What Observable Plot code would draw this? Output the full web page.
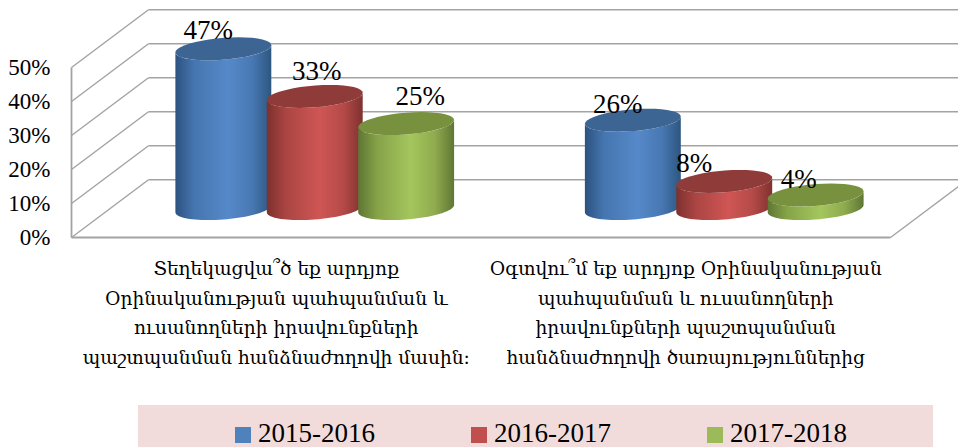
<!DOCTYPE html>
<html>
<head>
<meta charset="utf-8">
<script src="https://cdn.jsdelivr.net/npm/d3@7"></script>
<script src="https://cdn.jsdelivr.net/npm/@observablehq/plot@0.6"></script>
<style>
html,body{margin:0;padding:0;background:#fff;overflow:hidden}
#legend{position:relative;margin-left:138px;width:795px;height:42px;background:#f2dcdb;font:27px "Liberation Serif",serif;color:#000;display:flex;padding-left:97px;box-sizing:border-box;gap:96px;align-items:flex-end}
#legend div{display:flex;align-items:flex-end;gap:7px;line-height:27px;height:27px;white-space:nowrap}
#legend i{display:inline-block;width:16px;height:16px;margin-bottom:4px}
</style>
</head>
<body>
<div id="chart"></div>
<div id="legend"></div>
<script>
const categories = [
  "Տեղեկացվա՞ծ եք արդյոք\nՕրինականության պահպանման և\nուսանողների իրավունքների\nպաշտպանման հանձնաժողովի մասին:",
  "Օգտվու՞մ եք արդյոք Օրինականության\nպահպանման և ուսանողների\nիրավունքների պաշտպանման\nհանձնաժողովի ծառայություններից"
];
const seriesNames = ["2015-2016", "2016-2017", "2017-2018"];
const values2015 = [47, 26];
const values2016 = [33, 8];
const values2017 = [25, 4];
const seriesValues = [values2015, values2016, values2017];
const valueTicks = [0, 10, 20, 30, 40, 50];

const swatch = ["#4f81bd", "#c0504d", "#9bbb59"];
const topFill = ["#3d6594", "#8f3b39", "#77913f"];
const bodyStops = [
  ["#2c5280", "#4676b0", "#5689c9", "#4878b3", "#2d5680"],
  ["#7d302e", "#aa4543", "#cf5654", "#b44a48", "#7f312f"],
  ["#5e7634", "#86a348", "#a4c65d", "#8fab4e", "#5f7734"]
];

// oblique projection of the chart box, in scale units
const depthX = 0.188, depthY = 17;           // back wall shift
const barStep = 0.2232, radiusX = 0.111, shearX = 0.0373, radiusY = 3.38;

const cx = (c, s) => c + 0.5 + depthX / 2 + (s - 1) * barStep;
const cy = v => v + depthY / 2;
const ring = (c, s, v, t0, t1) => d3.range(0, 41).map(i => {
  const t = t0 + (t1 - t0) * i / 40;
  return {x: cx(c, s) + radiusX * Math.cos(t) + shearX * Math.sin(t), y: cy(v) + radiusY * Math.sin(t)};
});
const tE = Math.atan(shearX / radiusX);

const defs = () => {
  const d = d3.create("svg:defs");
  bodyStops.forEach((stops, s) => {
    const g = d.append("linearGradient").attr("id", "body" + s);
    [0, 0.2, 0.55, 0.8, 1].forEach((o, i) => g.append("stop").attr("offset", o).attr("stop-color", stops[i]));
  });
  return d.node();
};

const gridColor = "#a3a3a3";
const barMarks = [];
seriesValues.forEach((vals, s) => {
  vals.forEach((v, c) => {
    const body = [...ring(c, s, 0, tE, tE - Math.PI), ...ring(c, s, v, tE - Math.PI, tE)];
    const top = ring(c, s, v, 0, 2 * Math.PI);
    barMarks.push(Plot.line(body, {x: "x", y: "y", fill: `url(#body${s})`, stroke: "none"}));
    barMarks.push(Plot.line(top, {x: "x", y: "y", fill: topFill[s], stroke: "none"}));
  });
});

// hand offsets of the value labels, as in the original chart
const labelNudge = [
  [[-15, -18], [-15, -16]],
  [[2, -25], [-30, -18]],
  [[14, -27], [-17, -16]]
];
const labelMarks = [];
seriesValues.forEach((vals, s) => vals.forEach((v, c) => {
  labelMarks.push(Plot.text([v], {
    x: () => cx(c, s), y: d => cy(d), text: d => d + "%",
    dx: labelNudge[s][c][0], dy: labelNudge[s][c][1],
    fontSize: 27, fontFamily: "Liberation Serif", fill: "#000", lineAnchor: "middle"
  }));
}));

const plot = Plot.plot({
  width: 958, height: 405,
  marginLeft: 71, marginRight: 68, marginTop: 67, marginBottom: 168,
  style: {background: "#fff", overflow: "hidden"},
  x: {domain: [0, 2]},
  y: {domain: [0, 50]},
  marks: [
    defs,
    // back wall
    Plot.link(valueTicks, {x1: depthX, x2: 2 + depthX, y1: d => d + depthY, y2: d => d + depthY, stroke: gridColor, strokeWidth: 1.6}),
    // side wall
    Plot.link(valueTicks, {x1: 0, x2: depthX, y1: d => d, y2: d => d + depthY, stroke: gridColor, strokeWidth: 1.4}),
    Plot.link([0], {x1: 0, x2: 0, y1: 0, y2: 50, stroke: gridColor, strokeWidth: 1.8}),
    // floor
    Plot.link([0], {x1: 0, x2: 2, y1: 0, y2: 0, stroke: gridColor, strokeWidth: 1.8}),
    Plot.link([0], {x1: 2, x2: 2 + depthX, y1: 0, y2: depthY, stroke: gridColor, strokeWidth: 1.4}),
    ...barMarks,
    ...labelMarks,
    Plot.axisY({ticks: valueTicks, tickSize: 0, tickPadding: 21, tickFormat: d => d + "%", fontSize: 23, fontFamily: "Liberation Serif", fill: "#000", label: null}),
    Plot.axisX({ticks: [0.5, 1.5], tickSize: 0, tickPadding: 17, tickFormat: d => categories[Math.floor(d)], fontSize: 18.6, fontFamily: "DejaVu Serif", fill: "#000", label: null, lineHeight: 1.58, textOverflow: null, lineWidth: Infinity})
  ]
});
document.getElementById("chart").appendChild(plot);

const legend = d3.select("#legend");
seriesNames.forEach((n, i) => {
  const it = legend.append("div");
  it.append("i").style("background", swatch[i]);
  it.append("span").text(n);
});
</script>
</body>
</html>
